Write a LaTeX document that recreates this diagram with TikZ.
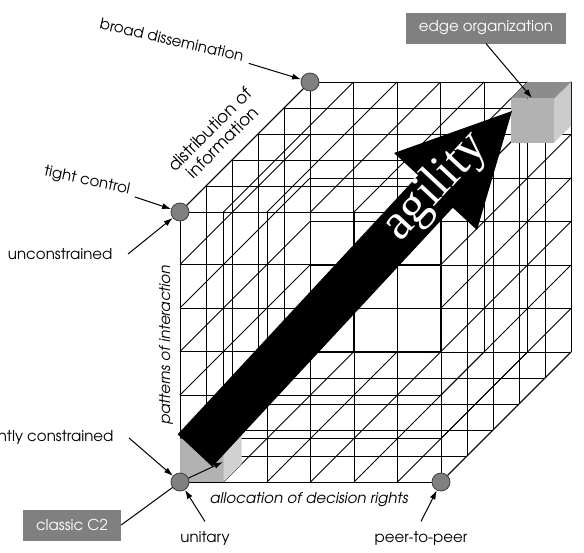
\documentclass[tikz,border=0pt]{standalone}
\usepackage{fontspec}
\setmainfont{TeX Gyre Adventor}
\newfontfamily\agilityfont{Liberation Serif}
\usetikzlibrary{positioning,arrows.meta}

\begin{document}
\begin{tikzpicture}[x=1pt,y=-1pt,
    every node/.style={font=\fontsize{15}{17}\selectfont},
    grid/.style={line width=0.8pt},
    corner/.style={draw=black!75,fill=black!50,circle,minimum size=18pt,inner sep=0pt,line width=0.8pt},
    tag/.style={fill=black!50,text=white,minimum height=31pt},
    pointer/.style={-{Latex[length=9pt,width=6pt]},line width=1pt}
  ]
  \useasboundingbox (0,0) rectangle (584,552);

  % front and back faces
  \foreach \i in {0,...,6} {
    \draw[grid] (180+43.5*\i,212) -- (180+43.5*\i,482);
    \draw[grid] (310+43.5*\i,82) -- (310+43.5*\i,352);
    % top and bottom faces
    \draw[grid] (180+43.5*\i,212) -- (310+43.5*\i,82);
    \draw[grid] (180+43.5*\i,482) -- (310+43.5*\i,352);
  }
  \foreach \y in {482,438.5,395,351.5,308,264.5,212} {
    \draw[grid] (180,\y) -- (441,\y);
    \draw[grid] (310,\y-130) -- (571,\y-130);
    % left and right faces
    \draw[grid] (180,\y) -- (310,\y-130);
    \draw[grid] (441,\y) -- (571,\y-130);
  }
  \foreach \k in {0,...,5} {
    \draw[grid] (180+26*\k,212-26*\k) -- (180+26*\k,482-26*\k);
    \draw[grid] (441+26*\k,212-26*\k) -- (441+26*\k,482-26*\k);
    \draw[grid] (180+26*\k,212-26*\k) -- (441+26*\k,212-26*\k);
    \draw[grid] (180+26*\k,482-26*\k) -- (441+26*\k,482-26*\k);
  }

  % the small cubes
  \fill[black!30] (180,438.5) rectangle (223.5,482);
  \fill[black!18] (223.5,482) -- (241.5,464) -- (241.5,420.5) -- (223.5,438.5) -- cycle;
  \fill[black!45] (180,438.5) -- (198,420.5) -- (241.5,420.5) -- (223.5,438.5) -- cycle;
  \fill[black!30] (510.5,98.5) rectangle (554,142.5);
  \fill[black!45] (510.5,98.5) -- (527.5,82) -- (571,82) -- (554,98.5) -- cycle;
  \fill[black!20] (554,98.5) -- (571,82) -- (571,126) -- (554,142.5) -- cycle;

  % the agility arrow
  \fill (177.7,434.3) -- (418.2,175.3) -- (394,153) -- (512,111)
    -- (477,230) -- (452.8,207.7) -- (212.3,466.7) -- cycle;
  \node[rotate=47,text=white,font=\agilityfont\fontsize{51}{51}\selectfont] (agility) at (436,187) {agility};

  % the labels
  \node[rotate=-13] (lbroad) at (172,40) {broad dissemination};
  \node[rotate=-12] (ltight) at (87,181) {tight control};
  \node[anchor=east] (lunc) at (116,254) {unconstrained};
  \node[anchor=east] (ltc) at (117,438) {tightly constrained};
  \node[tag,minimum width=98pt] (lc2) at (72,525) {classic C2};
  \node (lunit) at (205,538) {unitary};
  \node (lp2p) at (421,538) {peer-to-peer};
  \node[tag,minimum width=160pt] (ledge) at (486,28) {edge organization};
  \node[font=\fontsize{15}{17}\selectfont\itshape] (lalloc) at (309,500) {allocation of decision rights};
  \node[rotate=90,font=\fontsize{15}{17}\selectfont\itshape] (lpatt) at (166,345) {patterns of interaction};
  \node[rotate=45,align=center,font=\fontsize{17}{18}\selectfont] (ldist) at (216,136) {distribution of\\information};

  \coordinate (c2cube) at (223,462);
  \coordinate (edgecube) at (532,98);

  % the pointers
  \draw[pointer] (lc2.east) -- (180,482) -- (c2cube);
  \draw[pointer] (ledge.south) -- (edgecube);

  % the corners
  \node[corner] (c2) at (180,482) {};
  \node[corner] (p2p) at (441,482) {};
  \node[corner] (tight) at (180,212) {};
  \node[corner] (broad) at (310,82) {};

  \draw[pointer,shorten <=3pt] (lbroad) -- (broad);
  \draw[pointer,shorten <=3pt] (ltight) -- (tight);
  \draw[pointer] ([xshift=12pt]lunc.east) -- (tight);
  \draw[pointer] ([xshift=12pt]ltc.east) -- (c2);
  \draw[pointer] ([yshift=6pt]lunit.north) -- (c2);
  \draw[pointer] ([yshift=6pt]lp2p.north) -- (p2p);
\end{tikzpicture}
\end{document}
